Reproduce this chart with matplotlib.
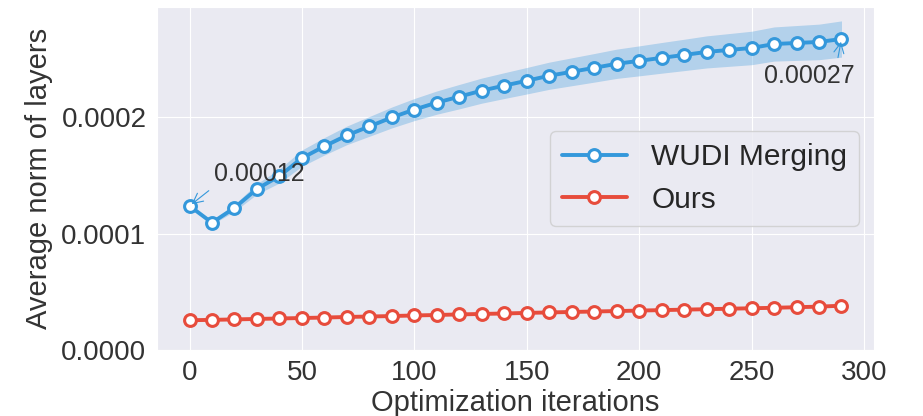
import numpy as np
import matplotlib
matplotlib.use("Agg")
import matplotlib.pyplot as plt
import seaborn as sns

# iterations (every 10 steps)
iters = list(range(0, 300, 10))

# average norm of layers, in units of 1e-4
wudi = [1.239, 1.094, 1.222, 1.385, 1.496, 1.650, 1.752, 1.846, 1.923, 2.000,
        2.068, 2.128, 2.179, 2.231, 2.274, 2.316, 2.359, 2.393, 2.427, 2.462,
        2.487, 2.513, 2.538, 2.564, 2.581, 2.598, 2.632, 2.641, 2.650, 2.675]
wudi_std = [0.005, 0.015, 0.030, 0.045, 0.060, 0.070, 0.075, 0.080, 0.085, 0.090,
            0.095, 0.100, 0.105, 0.108, 0.111, 0.114, 0.117, 0.120, 0.123, 0.126,
            0.129, 0.132, 0.135, 0.138, 0.141, 0.144, 0.147, 0.150, 0.153, 0.156]
ours = [0.255, 0.258, 0.262, 0.266, 0.270, 0.274, 0.278, 0.283, 0.287, 0.291,
        0.296, 0.300, 0.305, 0.309, 0.313, 0.318, 0.322, 0.326, 0.330, 0.334,
        0.338, 0.342, 0.346, 0.350, 0.354, 0.358, 0.362, 0.367, 0.372, 0.380]

blue = '#3498db'
red = '#e74c3c'

sns.set_style('darkgrid')
plt.rcParams['font.family'] = ['Liberation Sans', 'DejaVu Sans']

x = np.array(iters)
w = np.array(wudi) * 1e-4
s = np.array(wudi_std) * 1e-4
o = np.array(ours) * 1e-4

fig, ax = plt.subplots(figsize=(9.23, 4.16), dpi=100)
fig.subplots_adjust(left=0.170, right=0.947, top=0.983, bottom=0.159)

ax.fill_between(x, w - s, w + s, color=blue, alpha=0.3, lw=0)
ax.plot(x, w, '-o', color=blue, lw=2.8, ms=8.5, mew=2.2, mfc='white', label='WUDI Merging')
ax.plot(x, o, '-o', color=red, lw=2.8, ms=8.5, mew=2.2, mfc='white', label='Ours')

# annotate first and last value of WUDI
ax.annotate(f"{w[0]:.5f}", xy=(x[0], w[0]), xytext=(11, 1.45e-4),
            fontsize=18, color='#333333', va='baseline', ha='left',
            arrowprops=dict(arrowstyle='->', color=blue, lw=0.8, relpos=(0, 0)))
ax.annotate(f"{w[-1]:.5f}", xy=(x[-1], w[-1]), xytext=(296, 2.30e-4),
            fontsize=18, color='#333333', va='baseline', ha='right',
            arrowprops=dict(arrowstyle='->', color=blue, lw=0.8, relpos=(0.8, 1)))

ax.set_xlim(-14.5, 304.5)
ax.set_ylim(0, 0.000295)
ax.set_xticks([0, 50, 100, 150, 200, 250, 300])
ax.set_yticks([0, 0.0001, 0.0002])
ax.set_yticklabels(['0.0000', '0.0001', '0.0002'])
ax.tick_params(labelsize=20, colors='#333333', pad=4)
ax.set_xlabel('Optimization iterations', fontsize=21, color='#333333', labelpad=2)
ax.set_ylabel('Average norm of layers', fontsize=21, color='#333333', labelpad=6)
ax.legend(loc='center right', fontsize=21.5, handlelength=2.2)

fig.savefig('out.png', dpi=100)
